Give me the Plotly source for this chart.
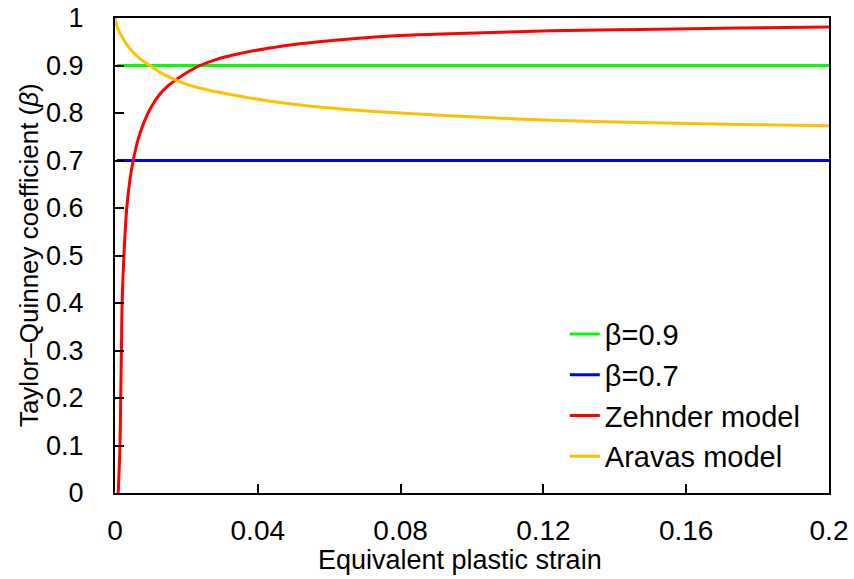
import plotly.graph_objects as go

# ---- data ----
strain_const = [0.0005, 0.2]
beta_09 = [0.9, 0.9]
beta_07 = [0.7, 0.7]

zehnder_strain = [0.0009, 0.0014, 0.0016, 0.0018, 0.0020, 0.0025, 0.0033, 0.0042, 0.0051,
                  0.0065, 0.0079, 0.0098, 0.0126, 0.0150, 0.0173, 0.0205, 0.0238, 0.0285,
                  0.0331, 0.0425, 0.0518, 0.0658, 0.0798, 0.0938, 0.108, 0.122, 0.147,
                  0.175, 0.2]
zehnder_beta = [0.0, 0.10, 0.20, 0.30, 0.40, 0.50, 0.60, 0.66, 0.70,
                0.745, 0.776, 0.808, 0.840, 0.858, 0.871, 0.887, 0.900, 0.913,
                0.922, 0.936, 0.946, 0.956, 0.963, 0.967, 0.970, 0.973, 0.976,
                0.979, 0.981]

aravas_strain = [0.0, 0.0009, 0.0019, 0.0033, 0.0047, 0.0061, 0.0080, 0.0098, 0.0120,
                 0.0145, 0.0191, 0.0238, 0.0331, 0.0425, 0.0518, 0.0658, 0.0798,
                 0.0938, 0.108, 0.122, 0.147, 0.175, 0.2]
aravas_beta = [1.0, 0.976, 0.961, 0.944, 0.931, 0.920, 0.909, 0.900, 0.889,
               0.878, 0.863, 0.852, 0.838, 0.826, 0.817, 0.807, 0.800,
               0.794, 0.789, 0.785, 0.780, 0.776, 0.773]

x_ticks = [0, 0.04, 0.08, 0.12, 0.16, 0.2]
x_ticklabels = ["0", "0.04", "0.08", "0.12", "0.16", "0.2"]
y_ticks = [0, 0.1, 0.2, 0.3, 0.4, 0.5, 0.6, 0.7, 0.8, 0.9, 1]
y_ticklabels = ["0", "0.1", "0.2", "0.3", "0.4", "0.5", "0.6", "0.7", "0.8", "0.9", "1"]

x_title = "Equivalent plastic strain"
y_title = "Taylor–Quinney coefficient (<i>β</i>)"

FONT = "Liberation Sans, Arial, sans-serif"

fig = go.Figure()
fig.add_trace(go.Scatter(x=strain_const, y=beta_09, mode="lines", name="β=0.9",
                         legendgroup="a", line=dict(color="#00FF00", width=3)))
fig.add_trace(go.Scatter(x=strain_const, y=beta_07, mode="lines", name="β=0.7",
                         legendgroup="b", line=dict(color="#0000FF", width=3)))
fig.add_trace(go.Scatter(x=zehnder_strain, y=zehnder_beta, mode="lines", name="Zehnder model",
                         legendgroup="c", line=dict(color="#FF0000", width=3, shape="spline", smoothing=1.0)))
fig.add_trace(go.Scatter(x=aravas_strain, y=aravas_beta, mode="lines", name="Aravas model",
                         legendgroup="d", line=dict(color="#FFC000", width=3, shape="spline", smoothing=1.0)))

fig.update_layout(
    width=854, height=579,
    margin=dict(l=115, r=25, t=18, b=86),
    paper_bgcolor="white", plot_bgcolor="white",
    font=dict(family=FONT, size=27, color="black"),
    showlegend=True,
    legend=dict(x=0.630, y=0.388, xanchor="left", yanchor="top",
                bgcolor="rgba(0,0,0,0)", font=dict(size=29),
                traceorder="grouped", tracegroupgap=0),
    xaxis=dict(range=[0, 0.2], tickmode="array", tickvals=x_ticks, ticktext=x_ticklabels,
               ticks="inside", ticklen=9, tickwidth=1.5, tickcolor="black",
               showline=True, linecolor="black", linewidth=2, mirror=True,
               showgrid=False, zeroline=False, ticklabelstandoff=11, automargin=False,
               tickfont=dict(size=28)),
    yaxis=dict(range=[0, 1], tickmode="array", tickvals=y_ticks, ticktext=y_ticklabels,
               ticks="inside", ticklen=9, tickwidth=1.5, tickcolor="black",
               showline=True, linecolor="black", linewidth=2, mirror=True,
               showgrid=False, zeroline=False, ticklabelstandoff=24, automargin=False,
               tickfont=dict(size=27)),
    annotations=[
        dict(text=x_title, xref="paper", yref="paper", x=0.483, y=-0.140,
             xanchor="center", yanchor="middle", showarrow=False, font=dict(size=27)),
        dict(text=y_title, xref="paper", yref="paper", x=-0.121, y=0.5, textangle=-90,
             xanchor="center", yanchor="middle", showarrow=False, font=dict(size=26)),
    ],
)

fig.write_html("out.html", config={"displayModeBar": False},
               post_script="document.body.style.margin='0';document.body.style.padding='0';")
